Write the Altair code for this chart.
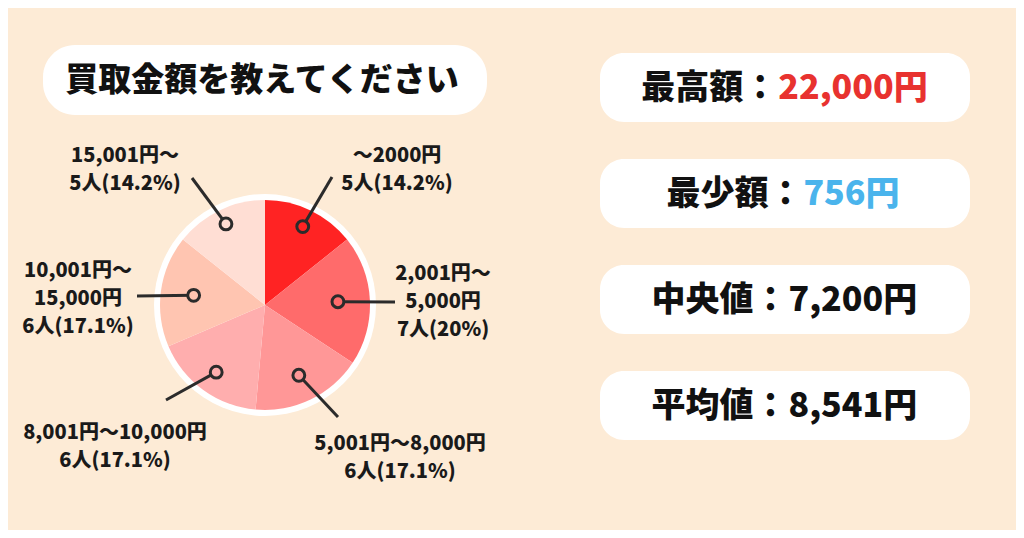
import math

import altair as alt
import pandas as pd

# pie: purchase price brackets, clockwise from 12 o'clock
label_lines = [
    "～2000円\n5人(14.2%)",
    "2,001円～\n5,000円\n7人(20%)",
    "5,001円～8,000円\n6人(17.1%)",
    "8,001円～10,000円\n6人(17.1%)",
    "10,001円～\n15,000円\n6人(17.1%)",
    "15,001円～\n5人(14.2%)",
]
ranges = ["～2000円", "2,001円～5,000円", "5,001円～8,000円",
          "8,001円～10,000円", "10,001円～15,000円", "15,001円～"]
people = [5, 7, 6, 6, 6, 5]

# summary boxes
stat_names = ["最高額", "最少額", "中央値", "平均値"]
stat_values = ["22,000円", "756円", "7,200円", "8,541円"]

title_text = "買取金額を教えてください"

# styling / layout (image pixel coords)
BG = "#FDEBD6"
INK = "#2B2B2B"
pie_colors = ["#FF2323", "#FF6B6B", "#FF9797", "#FFAEAE", "#FFC5B1", "#FFDED4"]
value_colors = ["#E8322F", "#4AB4EC", "#111111", "#111111"]
CX, CY, R = 265, 305, 105
dot_r = [87, 73, 78, 83, 72, 90]
leader_end = [(332, 177), (395, 302), (338, 417), (166, 400), (137, 296), (192, 178)]
# label anchor = centre of first line
label_pos = [(397, 156), (443, 274), (400, 444), (115, 433), (78, 271), (125, 156)]
FONT = "Noto Sans CJK JP"

LEFT_W, RIGHT_W, H = 592, 416, 522

# ---- left panel data
total = sum(people)
rows = []
cum = 0
for i, (rng, n) in enumerate(zip(ranges, people)):
    mid = (cum + n / 2) / total * 2 * math.pi
    cum += n
    dx = CX + dot_r[i] * math.sin(mid)
    dy = CY - dot_r[i] * math.cos(mid)
    rows.append({
        "idx": i, "range": rng, "people": n, "label": label_lines[i],
        "dot_x": dx, "dot_y": dy,
        "end_x": leader_end[i][0], "end_y": leader_end[i][1],
        "lab_x": label_pos[i][0], "lab_y": label_pos[i][1],
    })
pie_df = pd.DataFrame(rows)

xs = alt.Scale(domain=[8, 8 + LEFT_W])
ys = alt.Scale(domain=[8, 8 + H], reverse=True)

title_df = pd.DataFrame({"x": [43], "x2": [487], "y": [45], "y2": [115],
                         "tx": [262], "ty": [81], "text": [title_text]})

title_box = alt.Chart(title_df).mark_rect(color="white", cornerRadius=32).encode(
    x=alt.X("x:Q", scale=xs, axis=None), x2="x2:Q",
    y=alt.Y("y:Q", scale=ys, axis=None), y2="y2:Q",
)
title_txt = alt.Chart(title_df).mark_text(
    font=FONT, fontSize=33, fontWeight=900, color="#111111"
).encode(
    x=alt.X("tx:Q", scale=xs, axis=None),
    y=alt.Y("ty:Q", scale=ys, axis=None),
    text="text:N",
)

ring = alt.Chart(pd.DataFrame({"a": [1]})).mark_arc(
    radius=111, theta=0, theta2=6.2832, color="white"
).encode(x=alt.value(CX - 8), y=alt.value(CY - 8))

pie = alt.Chart(pie_df).mark_arc(radius=R).encode(
    theta=alt.Theta("people:Q", stack=True),
    color=alt.Color("range:N", scale=alt.Scale(domain=ranges, range=pie_colors), legend=None),
    order=alt.Order("idx:Q"),
    x=alt.value(CX - 8), y=alt.value(CY - 8),
)

leaders = alt.Chart(pie_df).mark_rule(color=INK, strokeWidth=3).encode(
    x=alt.X("dot_x:Q", scale=xs, axis=None), x2="end_x:Q",
    y=alt.Y("dot_y:Q", scale=ys, axis=None), y2="end_y:Q",
)

dots = alt.Chart(pie_df).mark_point(
    shape="circle", size=140, filled=True, stroke=INK, strokeWidth=3, opacity=1
).encode(
    x=alt.X("dot_x:Q", scale=xs, axis=None),
    y=alt.Y("dot_y:Q", scale=ys, axis=None),
    fill=alt.Fill("range:N", scale=alt.Scale(domain=ranges, range=pie_colors), legend=None),
)

labels = alt.Chart(pie_df).mark_text(
    font=FONT, fontSize=20, fontWeight=900, lineBreak="\n", lineHeight=28,
    color="#1A1A1A", align="center", baseline="middle",
).encode(
    x=alt.X("lab_x:Q", scale=xs, axis=None),
    y=alt.Y("lab_y:Q", scale=ys, axis=None),
    text="label:N",
)

left = alt.layer(title_box, title_txt, ring, pie, leaders, dots, labels).properties(
    width=LEFT_W, height=H
)

# ---- right panel data
FS = 34


def est_width(s):
    w = 0.0
    for ch in s:
        if ch.isdigit():
            w += 0.6
        elif ch == ",":
            w += 0.28
        else:
            w += 1.0
    return w * FS


box_w = 370
stat_df = pd.DataFrame({
    "stat": stat_names,
    "label": [n + "：" for n in stat_names],
    "value": stat_values,
    "vcolor": value_colors,
})
stat_df["split"] = [
    box_w / 2 + (est_width(l) - est_width(v)) / 2 - 3
    for l, v in zip(stat_df["label"], stat_df["value"])
]

yb = alt.Y(
    "stat:N", sort=stat_names, axis=None,
    scale=alt.Scale(paddingInner=0.349, paddingOuter=0.637, align=0.333),
)
xr = alt.Scale(domain=[0, RIGHT_W])

boxes = alt.Chart(stat_df).mark_rect(color="white", cornerRadius=24).encode(
    y=yb, x=alt.value(0), x2=alt.value(box_w),
)
names = alt.Chart(stat_df).mark_text(
    font=FONT, fontSize=FS, fontWeight=900, align="right", color="#111111", dy=2
).encode(y=yb, x=alt.X("split:Q", scale=xr, axis=None), text="label:N")
vals = alt.Chart(stat_df).mark_text(
    font=FONT, fontSize=FS, fontWeight=900, align="left", dx=1, dy=2
).encode(
    y=yb, x=alt.X("split:Q", scale=xr, axis=None), text="value:N",
    color=alt.Color("vcolor:N", scale=None),
)

right = alt.layer(boxes, names, vals).properties(width=RIGHT_W, height=H)

chart = (
    alt.hconcat(left, right, spacing=0)
    .properties(padding=0, background=BG)
    .configure_view(strokeWidth=0)
)

chart.save("out.html", embed_options={"renderer": "svg", "actions": False})
